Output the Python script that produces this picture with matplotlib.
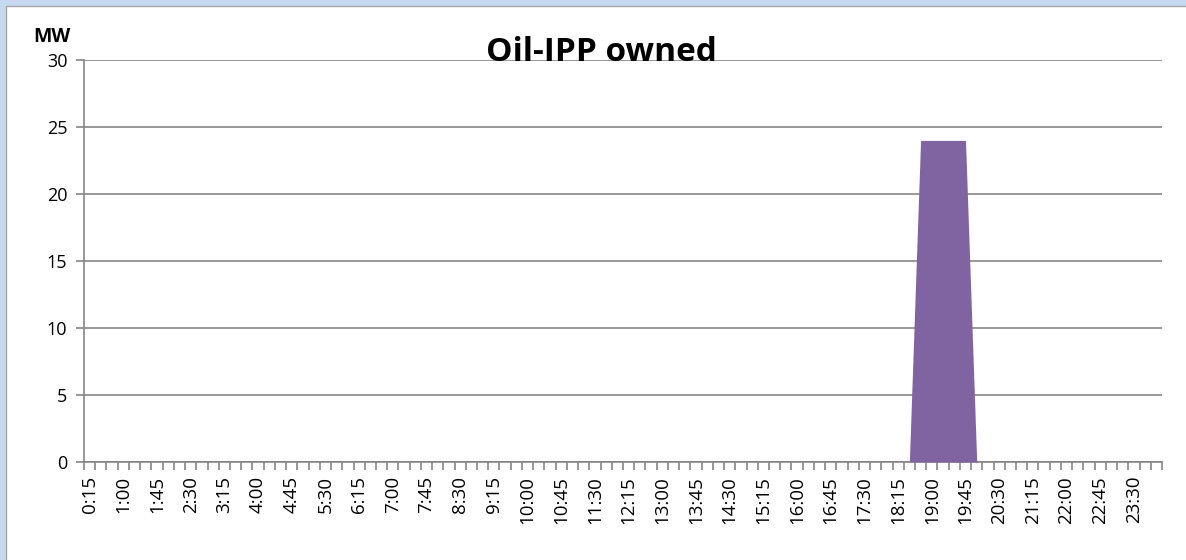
import matplotlib.pyplot as plt
import numpy as np
from matplotlib.patches import Rectangle

plt.rcParams['font.family'] = ['Open Sans', 'DejaVu Sans']

# 15-minute slots, 0:15 .. 24:00
times = ['%d:%02d' % (divmod(15 * k, 60)) for k in range(1, 97)]
mw = [0, 0, 0, 0, 0, 0, 0, 0, 0, 0, 0, 0,
      0, 0, 0, 0, 0, 0, 0, 0, 0, 0, 0, 0,
      0, 0, 0, 0, 0, 0, 0, 0, 0, 0, 0, 0,
      0, 0, 0, 0, 0, 0, 0, 0, 0, 0, 0, 0,
      0, 0, 0, 0, 0, 0, 0, 0, 0, 0, 0, 0,
      0, 0, 0, 0, 0, 0, 0, 0, 0, 0, 0, 0,
      0, 0, 24, 24, 24, 24, 24, 0, 0, 0, 0, 0,
      0, 0, 0, 0, 0, 0, 0, 0, 0, 0, 0, 0]
yticks = [0, 5, 10, 15, 20, 25, 30]

fig = plt.figure(figsize=(11.86, 5.6), dpi=100)
fig.patch.set_facecolor('#c6d9f0')
fig.patches.append(Rectangle((6 / 1186, -0.01), 1.02, 1 - 6 / 560 + 0.01,
                             transform=fig.transFigure, facecolor='white',
                             edgecolor='#a6a6a6', lw=1, zorder=-10))

ax = fig.add_axes([84 / 1186, 98 / 560, 1078 / 1186, 402 / 560])
ax.set_facecolor('none')
x = np.arange(len(mw)) + 0.5
ax.fill_between(x, mw, color='#8064a2', lw=0, zorder=3)

ax.set_xlim(0, len(mw))
ax.set_ylim(0, 30)
ax.set_yticks(yticks)
ax.grid(axis='y', color='#868686', lw=1.2)
ax.set_axisbelow(True)
for s in ['top', 'right']:
    ax.spines[s].set_visible(False)
for s in ['left', 'bottom']:
    ax.spines[s].set_color('#868686')
    ax.spines[s].set_linewidth(1.2)

ax.set_xticks(x[::3])
ax.set_xticklabels(times[::3], rotation=90, fontsize=13.5)
ax.set_xticks(np.arange(len(mw) + 1), minor=True)
ax.tick_params(axis='x', which='major', length=0, pad=10)
ax.tick_params(axis='x', which='minor', length=6, color='#868686', width=1.2)
ax.tick_params(axis='y', length=6, color='#868686', width=1.2, labelsize=13, pad=6)

fig.text(601 / 1186, 1 - 61 / 560, 'Oil-IPP owned', ha='center', va='baseline',
         fontsize=24, fontweight='bold', zorder=5)
fig.text(52 / 1186, 1 - 42 / 560, 'MW', ha='center', va='baseline',
         fontsize=14, fontweight='bold')

fig.savefig('out.png', dpi=100, facecolor=fig.get_facecolor())
